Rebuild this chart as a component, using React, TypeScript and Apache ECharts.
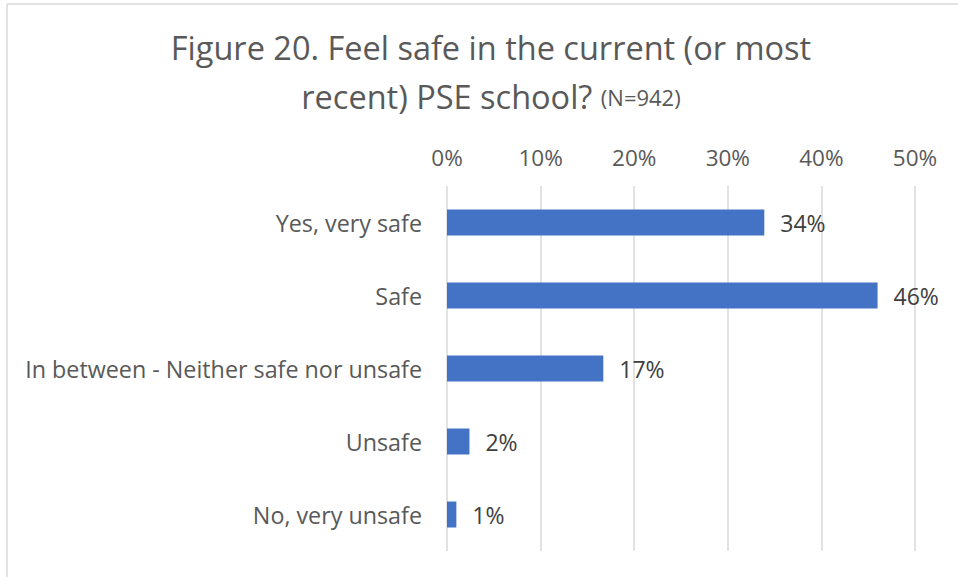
import React, { useEffect, useRef } from "react";
import * as echarts from "echarts";

const categories = [
  "Yes, very safe",
  "Safe",
  "In between - Neither safe nor unsafe",
  "Unsafe",
  "No, very unsafe",
];
const values = [33.9, 46.0, 16.7, 2.4, 1.0];
const valueLabels = ["34%", "46%", "17%", "2%", "1%"];
const titleLine1 = "Figure 20. Feel safe in the current (or most";
const titleLine2 = "recent) PSE school?";
const titleNote = "(N=942)";

export default function App() {
  const ref = useRef<HTMLDivElement>(null);
  useEffect(() => {
    if (!ref.current) return;
    const chart = echarts.init(ref.current, null, { renderer: "svg" });
    const font = "'Open Sans', 'Noto Sans', sans-serif";
    chart.setOption({
      animation: false,
      backgroundColor: "#ffffff",
      textStyle: { fontFamily: font },
      title: {
        text: `${titleLine1}\n${titleLine2} {n|${titleNote}}`,
        left: 486,
        textAlign: "center",
        top: 18,
        textStyle: {
          fontFamily: font,
          fontSize: 32.5,
          fontWeight: "normal",
          color: "#595959",
          lineHeight: 49,
          rich: {
            n: { fontSize: 22, color: "#595959", fontFamily: font, lineHeight: 49 },
          },
        },
      },
      graphic: [
        {
          type: "line",
          shape: { x1: 7, y1: 4, x2: 958, y2: 4 },
          style: { stroke: "#d9d9d9", lineWidth: 1.5 },
        },
        {
          type: "line",
          shape: { x1: 7, y1: 4, x2: 7, y2: 577 },
          style: { stroke: "#d9d9d9", lineWidth: 1.5 },
        },
      ],
      grid: { left: 447, right: 43, top: 186, bottom: 26, containLabel: false },
      xAxis: {
        type: "value",
        position: "top",
        min: 0,
        max: 50,
        interval: 10,
        axisLine: { show: false },
        axisTick: { show: false },
        axisLabel: {
          formatter: "{value}%",
          color: "#595959",
          fontSize: 22.5,
          margin: 17,
          fontFamily: font,
        },
        splitLine: { lineStyle: { color: "#d9d9d9", width: 1.5 } },
      },
      yAxis: {
        type: "category",
        data: categories,
        inverse: true,
        axisLine: { show: false },
        axisTick: { show: false },
        axisLabel: { color: "#595959", fontSize: 23.3, margin: 25, fontFamily: font },
      },
      series: [
        {
          type: "bar",
          data: values,
          barWidth: 26,
          itemStyle: { color: "#4472C4" },
          label: {
            show: true,
            position: "right",
            distance: 16,
            color: "#404040",
            fontSize: 23,
            fontFamily: font,
            formatter: (p: any) => valueLabels[p.dataIndex],
          },
        },
      ],
    });
    return () => chart.dispose();
  }, []);
  return (
    <div
      ref={ref}
      style={{ position: "absolute", left: 0, top: 0, width: 958, height: 577 }}
    />
  );
}
